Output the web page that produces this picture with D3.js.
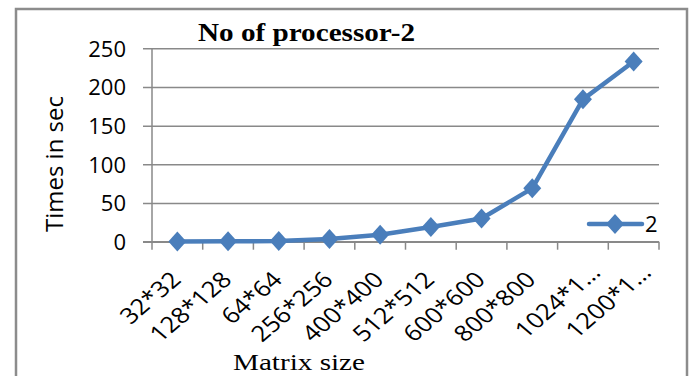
<!DOCTYPE html>
<html>
<head>
<meta charset="utf-8">
<script src="https://cdn.jsdelivr.net/npm/d3@7"></script>
<style>
  html, body { margin: 0; padding: 0; background: #fff; }
  svg { display: block; }
</style>
</head>
<body>
<svg id="chart" width="695" height="376"></svg>
<script>
const categories = ["32*32", "128*128", "64*64", "256*256", "400*400", "512*512", "600*600", "800*800", "1024*1…", "1200*1…"];
const seriesName = "2";
const values = [0.3, 0.6, 0.8, 3.5, 9, 19, 30, 69, 184, 233];
const yTicks = [0, 50, 100, 150, 200, 250];
const titleText = "No of processor-2";
const xTitle = "Matrix size";
const yTitle = "Times in sec";

const svg = d3.select("#chart");
const blue = "#4a7ebb";
const grid = "#898989";
const sans = "'Open Sans', 'Noto Sans', sans-serif";
const serif = "'Liberation Serif', 'Times New Roman', serif";

// outer frame
svg.append("rect").attr("x", 16).attr("y", 9).attr("width", 671).attr("height", 420)
  .attr("fill", "#fff").attr("stroke", "#8c8c8c").attr("stroke-width", 2.5);

const plot = { left: 152, right: 659, top: 48.3, bottom: 241.7 };
const x = d3.scaleBand().domain(categories).range([plot.left, plot.right]);
const y = d3.scaleLinear().domain([0, 250]).range([plot.bottom, plot.top]);

// gridlines + y ticks
const yAxis = d3.axisLeft(y).tickValues(yTicks).tickSize(plot.right - plot.left + 9).tickFormat(d3.format("d")).tickPadding(17);
const gy = svg.append("g").attr("transform", `translate(${plot.right},0)`).call(yAxis);
gy.select(".domain").remove();
gy.selectAll(".tick line").attr("stroke", grid).attr("stroke-width", 1.5);
gy.selectAll(".tick text").attr("font-family", sans).attr("font-size", 22).attr("fill", "#000")
  .attr("dy", "0.36em");

// y axis line
svg.append("line").attr("x1", plot.left).attr("x2", plot.left).attr("y1", plot.top).attr("y2", plot.bottom)
  .attr("stroke", grid).attr("stroke-width", 1.5);

// x axis line and boundary ticks
svg.append("line").attr("x1", plot.left - 9).attr("x2", plot.right).attr("y1", plot.bottom).attr("y2", plot.bottom)
  .attr("stroke", grid).attr("stroke-width", 1.5);
const bounds = categories.map(c => x(c)).concat([plot.right]);
svg.append("g").selectAll("line").data(bounds).join("line")
  .attr("x1", d => d).attr("x2", d => d).attr("y1", plot.bottom).attr("y2", plot.bottom + 8)
  .attr("stroke", grid).attr("stroke-width", 1.5);

// x labels
svg.append("g").selectAll("text").data(categories).join("text")
  .attr("transform", d => {
    const cx = x(d) + x.bandwidth() / 2;
    const trunc = d.endsWith("…");
    const ax = cx + (trunc ? 19 : 5);
    const ay = trunc ? 274 : 281;
    return `translate(${ax},${ay}) scale(1.17,1) rotate(-45)`;
  })
  .attr("text-anchor", "end")
  .attr("font-family", sans).attr("font-size", 22).attr("fill", "#000")
  .text(d => d);

// line
const line = d3.line().x((d, i) => x(categories[i]) + x.bandwidth() / 2).y(d => y(d));
svg.append("path").datum(values).attr("d", line).attr("fill", "none")
  .attr("stroke", blue).attr("stroke-width", 4.5).attr("stroke-linejoin", "round");

const diamond = "M0,-10L9,0L0,10L-9,0Z";
svg.append("g").selectAll("path").data(values).join("path")
  .attr("transform", (d, i) => `translate(${x(categories[i]) + x.bandwidth() / 2},${y(d)})`)
  .attr("d", diamond).attr("fill", blue);

// legend
svg.append("line").attr("x1", 589).attr("x2", 642).attr("y1", 224).attr("y2", 224)
  .attr("stroke", blue).attr("stroke-width", 4.5).attr("stroke-linecap", "round");
svg.append("path").attr("transform", "translate(615,224)").attr("d", diamond).attr("fill", blue);
svg.append("text").attr("x", 645).attr("y", 232).attr("font-family", sans).attr("font-size", 22)
  .attr("fill", "#000").text(seriesName);

// title
svg.append("text").attr("x", 198).attr("y", 41).attr("font-family", serif).attr("font-weight", "bold")
  .attr("font-size", 25).attr("textLength", 217).attr("lengthAdjust", "spacingAndGlyphs")
  .attr("fill", "#000").text(titleText);

// axis titles
svg.append("text").attr("x", 233).attr("y", 370).attr("font-family", serif).attr("font-size", 24)
  .attr("textLength", 132).attr("lengthAdjust", "spacingAndGlyphs").attr("fill", "#000").text(xTitle);
svg.append("text").attr("transform", "translate(63,164) rotate(-90)").attr("text-anchor", "middle")
  .attr("font-family", sans).attr("font-size", 24).attr("fill", "#000").text(yTitle);
</script>
</body>
</html>
